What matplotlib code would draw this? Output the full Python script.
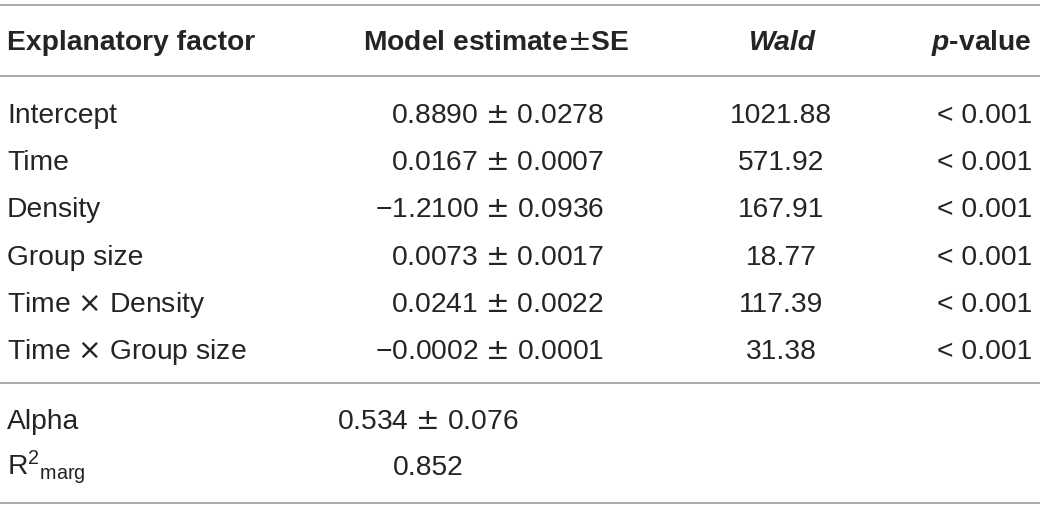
import matplotlib
matplotlib.use("Agg")
import matplotlib.pyplot as plt

plt.rcParams["font.family"] = ["Liberation Sans", "DejaVu Sans"]
plt.rcParams["mathtext.fontset"] = "custom"
plt.rcParams["mathtext.rm"] = "Liberation Sans"
plt.rcParams["mathtext.it"] = "Liberation Sans:italic"
plt.rcParams["mathtext.bf"] = "Liberation Sans:bold"
plt.rcParams["mathtext.bfit"] = "Liberation Sans:italic:bold"
plt.rcParams["mathtext.sf"] = "DejaVu Sans"

PM = r"$\mathsf{\pm}$"
TIMES = r"$\mathsf{\times}$"

# --- table data ---
headers = ["Explanatory factor", "Model estimate" + PM + "SE", "Wald", "-value"]
factors = ["Intercept", "Time", "Density", "Group size",
           "Time " + TIMES + " Density", "Time " + TIMES + " Group size"]
estimates = ["0.8890", "0.0167", "\u22121.2100", "0.0073", "0.0241", "\u22120.0002"]
std_errors = ["0.0278", "0.0007", "0.0936", "0.0017", "0.0022", "0.0001"]
wald = ["1021.88", "571.92", "167.91", "18.77", "117.39", "31.38"]
p_values = ["< 0.001"] * 6
extra_labels = ["Alpha", r"R$^{2}{}_{\mathrm{marg}}$"]
extra_values = ["0.534 " + PM + " 0.076", "0.852"]

TXT = "#262324"
RULE = "#a3a3a3"
FS = 20.3

fig = plt.figure(figsize=(10.4, 5.09), dpi=100)
ax = fig.add_axes([0, 0, 1, 1])
ax.set_xlim(0, 1040)
ax.set_ylim(509, 0)
ax.axis("off")

# rules
for y in [5, 76, 383, 503]:
    ax.axhline(y, color=RULE, lw=1.3)

# header
hy = 50
ax.text(7, hy, headers[0], fontsize=FS, fontweight="bold", color=TXT, va="baseline")
ax.text(496, hy, headers[1], fontsize=FS, fontweight="bold", color=TXT,
        va="baseline", ha="center")
ax.text(782, hy, headers[2], fontsize=FS, fontweight="bold", fontstyle="italic",
        color=TXT, va="baseline", ha="center")
ax.text(1032, hy, r"$\mathbfit{p}$" + headers[3], fontsize=FS, fontweight="bold",
        color=TXT, va="baseline", ha="right")

# body rows
for i in range(len(factors)):
    y = 123 + i * 47.2
    ax.text(7, y, factors[i], fontsize=FS, color=TXT, va="baseline")
    ax.text(604, y, estimates[i] + " " + PM + " " + std_errors[i], fontsize=FS,
            color=TXT, va="baseline", ha="right")
    ax.text(781, y, wald[i], fontsize=FS, color=TXT, va="baseline", ha="center")
    ax.text(1032, y, p_values[i], fontsize=FS, color=TXT, va="baseline", ha="right")

# model summary rows
for j in range(len(extra_labels)):
    y = 429 + j * 46
    ax.text(7, y, extra_labels[j], fontsize=FS, color=TXT, va="baseline")
    ax.text(428, y, extra_values[j], fontsize=FS, color=TXT, va="baseline", ha="center")

fig.savefig("out.png", dpi=100)
